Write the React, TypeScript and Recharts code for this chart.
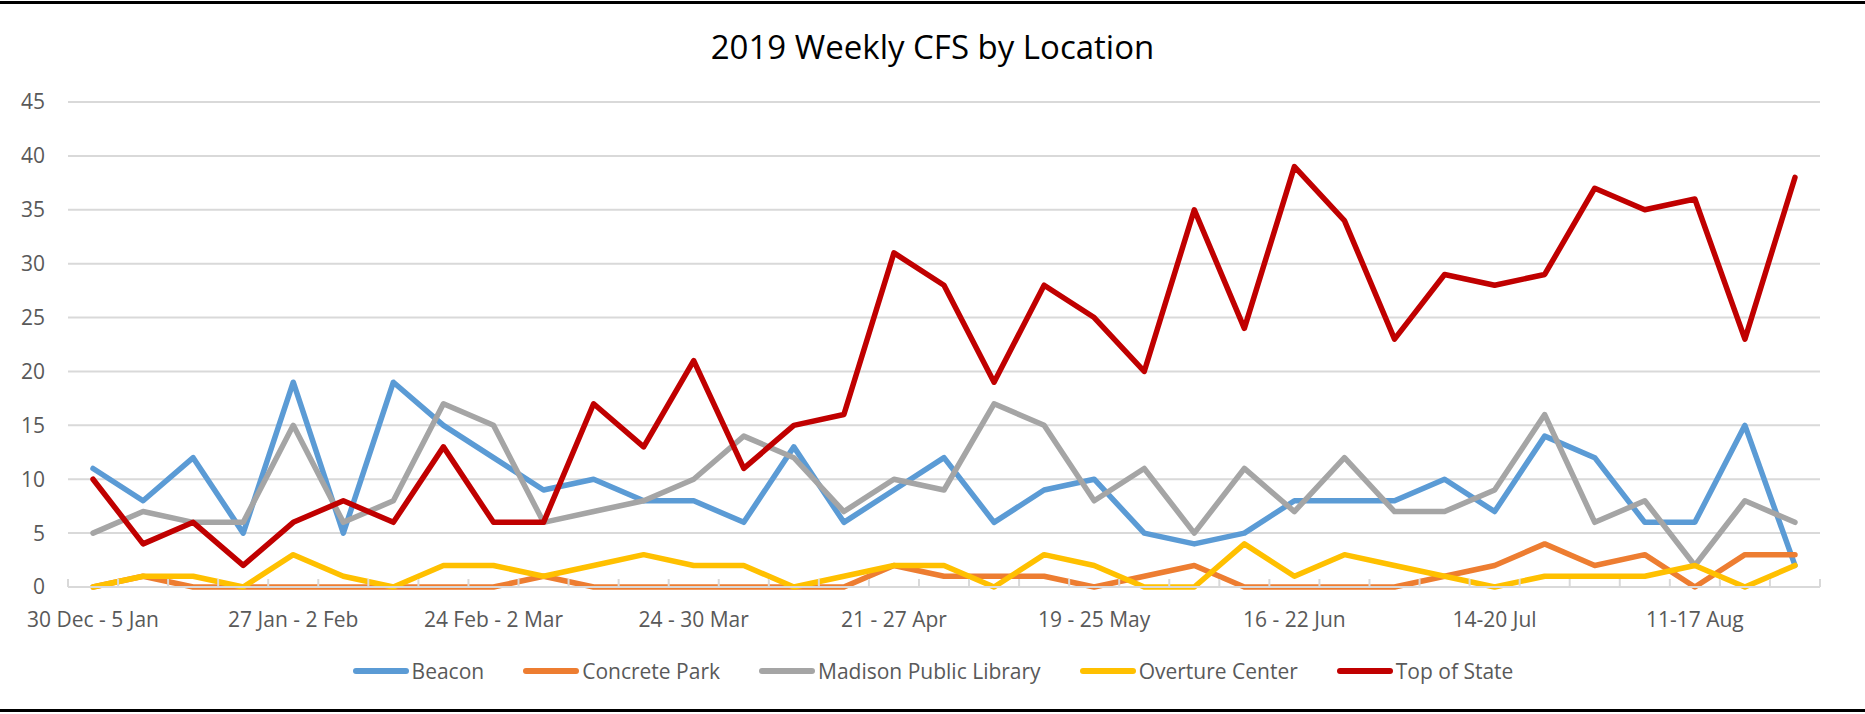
import React from 'react';
import { LineChart, Line, XAxis, YAxis, CartesianGrid, Legend } from 'recharts';

const weeks = [
  '30 Dec - 5 Jan', '6 - 12 Jan', '13 - 19 Jan', '20 - 26 Jan',
  '27 Jan - 2 Feb', '3 - 9 Feb', '10 - 16 Feb', '17 - 23 Feb',
  '24 Feb - 2 Mar', '3 - 9 Mar', '10 - 16 Mar', '17 - 23 Mar',
  '24 - 30 Mar', '31 Mar - 6 Apr', '7 - 13 Apr', '14 - 20 Apr',
  '21 - 27 Apr', '28 Apr - 4 May', '5 - 11 May', '12 - 18 May',
  '19 - 25 May', '26 May - 1 Jun', '2 - 8 Jun', '9 - 15 Jun',
  '16 - 22 Jun', '23 - 29 Jun', '30 Jun - 6 Jul', '7-13 Jul',
  '14-20 Jul', '21-27 Jul', '28 Jul - 3 Aug', '4-10 Aug',
  '11-17 Aug', '18-24 Aug', '25-31 Aug',
];

const beacon = [11, 8, 12, 5, 19, 5, 19, 15, 12, 9, 10, 8, 8, 6, 13, 6, 9, 12, 6, 9, 10, 5, 4, 5, 8, 8, 8, 10, 7, 14, 12, 6, 6, 15, 2];
const concretePark = [0, 1, 0, 0, 0, 0, 0, 0, 0, 1, 0, 0, 0, 0, 0, 0, 2, 1, 1, 1, 0, 1, 2, 0, 0, 0, 0, 1, 2, 4, 2, 3, 0, 3, 3];
const madisonLibrary = [5, 7, 6, 6, 15, 6, 8, 17, 15, 6, 7, 8, 10, 14, 12, 7, 10, 9, 17, 15, 8, 11, 5, 11, 7, 12, 7, 7, 9, 16, 6, 8, 2, 8, 6];
const overtureCenter = [0, 1, 1, 0, 3, 1, 0, 2, 2, 1, 2, 3, 2, 2, 0, 1, 2, 2, 0, 3, 2, 0, 0, 4, 1, 3, 2, 1, 0, 1, 1, 1, 2, 0, 2];
const topOfState = [10, 4, 6, 2, 6, 8, 6, 13, 6, 6, 17, 13, 21, 11, 15, 16, 31, 28, 19, 28, 25, 20, 35, 24, 39, 34, 23, 29, 28, 29, 37, 35, 36, 23, 38];

const yTicks = [0, 5, 10, 15, 20, 25, 30, 35, 40, 45];
const LABEL_EVERY = 4;

const series = [
  { key: 'beacon', name: 'Beacon', color: '#5B9BD5' },
  { key: 'concrete', name: 'Concrete Park', color: '#ED7D31' },
  { key: 'madison', name: 'Madison Public Library', color: '#A5A5A5' },
  { key: 'overture', name: 'Overture Center', color: '#FFC000' },
  { key: 'top', name: 'Top of State', color: '#C00000' },
];

const data = weeks.map((w, i) => ({
  week: w,
  beacon: beacon[i],
  concrete: concretePark[i],
  madison: madisonLibrary[i],
  overture: overtureCenter[i],
  top: topOfState[i],
}));

const FONT = "'Open Sans', sans-serif";
const TEXT = '#595959';
const GRID = '#D9D9D9';
const TICK_MARGIN = 25;

const XTick = (props: any) => {
  const { x, y, payload } = props;
  const idx = payload?.index ?? props.index ?? 0;
  const off = payload?.offset ?? 25;
  const axisY = y - TICK_MARGIN;
  return (
    <g>
      <line x1={x - off} x2={x - off} y1={axisY} y2={axisY - 8} stroke={GRID} strokeWidth={2} />
      {idx === weeks.length - 1 && (
        <line x1={x + off} x2={x + off} y1={axisY} y2={axisY - 8} stroke={GRID} strokeWidth={2} />
      )}
      {idx % LABEL_EVERY === 0 && (
        <text x={x} y={y} dy="0.71em" textAnchor="middle" fill={TEXT} fontSize={21} fontFamily={FONT}>
          {payload.value}
        </text>
      )}
    </g>
  );
};

const LegendContent = () => (
  <div
    style={{
      display: 'flex',
      justifyContent: 'center',
      alignItems: 'center',
      height: 30,
      fontFamily: FONT,
      fontSize: 21,
      color: TEXT,
      whiteSpace: 'nowrap',
    }}
  >
    {series.map((s) => (
      <div key={s.key} style={{ display: 'flex', alignItems: 'center', margin: '0 19px' }}>
        <svg width={58} height={10}>
          <line x1={4} x2={54} y1={5} y2={5} stroke={s.color} strokeWidth={6} strokeLinecap="round" />
        </svg>
        <span style={{ marginLeft: 2 }}>{s.name}</span>
      </div>
    ))}
  </div>
);

export default function App() {
  return (
    <div
      style={{
        position: 'absolute',
        left: 0,
        top: 0,
        width: 1865,
        height: 714,
        background: '#fff',
        overflow: 'hidden',
      }}
    >
      <div style={{ position: 'absolute', left: 0, top: 1, width: 1865, height: 3, background: '#000' }} />
      <div style={{ position: 'absolute', left: 0, top: 709, width: 1865, height: 3, background: '#000' }} />
      <div
        style={{
          position: 'absolute',
          left: 0,
          top: 24,
          width: 1865,
          textAlign: 'center',
          fontFamily: FONT,
          fontSize: 33,
          lineHeight: '45px',
          color: '#000',
        }}
      >
        2019 Weekly CFS by Location
      </div>
      <LineChart
        width={1865}
        height={714}
        data={data}
        margin={{ top: 102, right: 45, left: 0, bottom: 47 }}
      >
        <CartesianGrid vertical={false} stroke={GRID} strokeWidth={2} />
        <XAxis
          dataKey="week"
          scale="band"
          interval={0}
          tickLine={false}
          tickSize={0}
          tickMargin={TICK_MARGIN}
          height={50}
          axisLine={{ stroke: GRID, strokeWidth: 2 }}
          tick={<XTick />}
        />
        <YAxis
          domain={[0, 45]}
          ticks={yTicks}
          width={68}
          axisLine={false}
          tickLine={false}
          tickSize={0}
          tickMargin={23}
          tick={{ fill: TEXT, fontSize: 21, fontFamily: FONT }}
        />
        <Legend
          verticalAlign="bottom"
          height={30}
          content={<LegendContent />}
          wrapperStyle={{ top: 656, left: 0, width: 1865, height: 30 }}
        />
        {series.map((s) => (
          <Line
            key={s.key}
            type="linear"
            dataKey={s.key}
            name={s.name}
            stroke={s.color}
            strokeWidth={5.5}
            strokeLinecap="round"
            strokeLinejoin="round"
            dot={false}
            activeDot={false}
            isAnimationActive={false}
          />
        ))}
      </LineChart>
    </div>
  );
}
